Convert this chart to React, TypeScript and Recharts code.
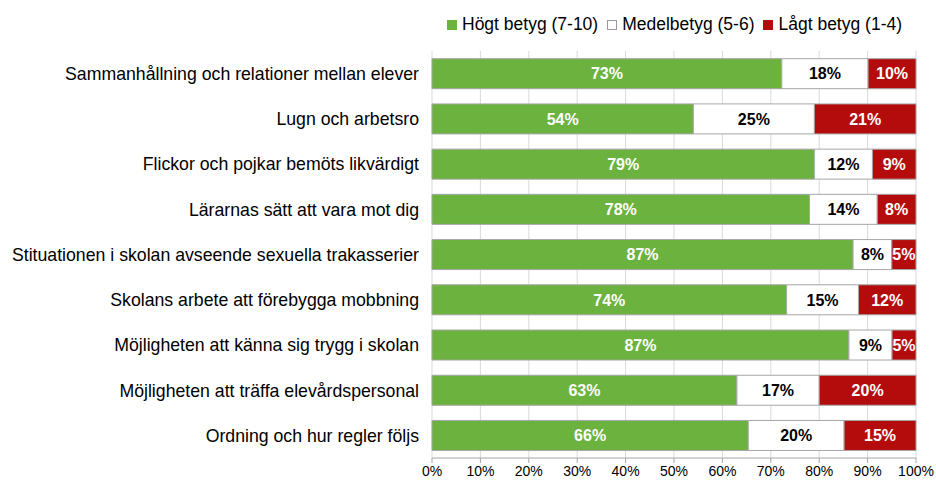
import React from "react";
import {
  BarChart,
  Bar,
  XAxis,
  YAxis,
  CartesianGrid,
} from "recharts";

const categories = [
  "Sammanhållning och relationer mellan elever",
  "Lugn och arbetsro",
  "Flickor och pojkar bemöts likvärdigt",
  "Lärarnas sätt att vara mot dig",
  "Stituationen i skolan avseende sexuella trakasserier",
  "Skolans arbete att förebygga mobbning",
  "Möjligheten att känna sig trygg i skolan",
  "Möjligheten att träffa elevårdspersonal",
  "Ordning och hur regler följs",
];

const highValues = [73, 54, 79, 78, 87, 74, 87, 63, 66];
const mediumValues = [18, 25, 12, 14, 8, 15, 9, 17, 20];
const lowValues = [10, 21, 9, 8, 5, 12, 5, 20, 15];

const xTicks = [0, 0.1, 0.2, 0.3, 0.4, 0.5, 0.6, 0.7, 0.8, 0.9, 1];

const series = [
  { key: "high", name: "Högt betyg (7-10)", color: "#6cb23e", text: "#fff", values: highValues },
  { key: "medium", name: "Medelbetyg (5-6)", color: "#ffffff", text: "#000", values: mediumValues },
  { key: "low", name: "Lågt betyg (1-4)", color: "#b40c0c", text: "#fff", values: lowValues },
];

const data = categories.map((name, i) => ({
  name,
  high: highValues[i],
  medium: mediumValues[i],
  low: lowValues[i],
}));

const boundaryTicks = categories.map((_, i) => i).concat(categories.length);

const FONT = '"Liberation Sans", Arial, sans-serif';
const AXIS = "#a6a6a6";

function makeLabel(values: number[], color: string) {
  return (props: any) => {
    const { x, y, width, height, index } = props;
    const v = values[index];
    if (v == null) return null;
    return (
      <text
        x={Number(x) + Number(width) / 2}
        y={Number(y) + Number(height) / 2}
        dy="0.36em"
        textAnchor="middle"
        fill={color}
        fontFamily={FONT}
        fontSize={16}
        fontWeight="bold"
      >
        {`${v}%`}
      </text>
    );
  };
}

function CategoryTick({ x, y, payload }: any) {
  return (
    <text
      x={x}
      y={y}
      dy="0.36em"
      textAnchor="end"
      fill="#000"
      fontFamily={FONT}
      fontSize={17.7}
    >
      {payload.value}
    </text>
  );
}

function Legend() {
  return (
    <div
      style={{
        position: "absolute",
        top: 14,
        left: 447,
        display: "flex",
        alignItems: "center",
        fontFamily: FONT,
        fontSize: 17.5,
        color: "#000",
        whiteSpace: "nowrap",
      }}
    >
      {series.map((s) => (
        <div key={s.key} style={{ display: "flex", alignItems: "center", marginRight: 9 }}>
          <span
            style={{
              display: "inline-block",
              width: 8,
              height: 8,
              background: s.color,
              border: `1px solid ${s.key === "medium" ? "#999" : s.color}`,
              marginRight: 5,
            }}
          />
          <span>{s.name}</span>
        </div>
      ))}
    </div>
  );
}

export default function App() {
  return (
    <div style={{ position: "relative", width: 936, height: 484, background: "#fff" }}>
      <style>{`body{margin:0}`}</style>
      <Legend />
      <BarChart
        width={936}
        height={484}
        data={data}
        layout="vertical"
        stackOffset="expand"
        barCategoryGap="17%"
        margin={{ top: 51, right: 20, bottom: 0, left: 0 }}
      >
        <CartesianGrid vertical horizontal={false} stroke="#d9d9d9" />
        <XAxis
          type="number"
          domain={[0, 1]}
          ticks={xTicks}
          tickFormatter={(v: number) => `${Math.round(v * 100)}%`}
          tick={{ fontSize: 14, fill: "#000", fontFamily: FONT }}
          tickSize={5}
          tickMargin={3}
          height={26}
          stroke={AXIS}
          axisLine={{ stroke: AXIS }}
          tickLine={{ stroke: AXIS }}
        />
        <XAxis
          xAxisId="top"
          orientation="top"
          type="number"
          domain={[0, 1]}
          height={0}
          tick={false}
          tickLine={false}
          axisLine={{ stroke: AXIS }}
        />
        <YAxis
          yAxisId="bounds"
          type="number"
          domain={[0, categories.length]}
          ticks={boundaryTicks}
          width={0}
          tick={false}
          tickSize={5}
          tickLine={{ stroke: AXIS }}
          axisLine={{ stroke: AXIS }}
        />
        <YAxis
          yAxisId="cat"
          type="category"
          dataKey="name"
          width={432}
          tick={<CategoryTick />}
          tickSize={0}
          tickMargin={13}
          axisLine={false}
          tickLine={false}
          interval={0}
        />
        <YAxis
          yAxisId="right"
          orientation="right"
          type="number"
          domain={[0, 1]}
          width={0}
          tick={false}
          tickLine={false}
          axisLine={{ stroke: AXIS }}
        />
        {series.map((s) => (
          <Bar
            key={s.key}
            yAxisId="cat"
            dataKey={s.key}
            name={s.name}
            stackId="a"
            fill={s.color}
            stroke={AXIS}
            strokeWidth={1}
            isAnimationActive={false}
            label={makeLabel(s.values, s.text)}
          />
        ))}
      </BarChart>
    </div>
  );
}
